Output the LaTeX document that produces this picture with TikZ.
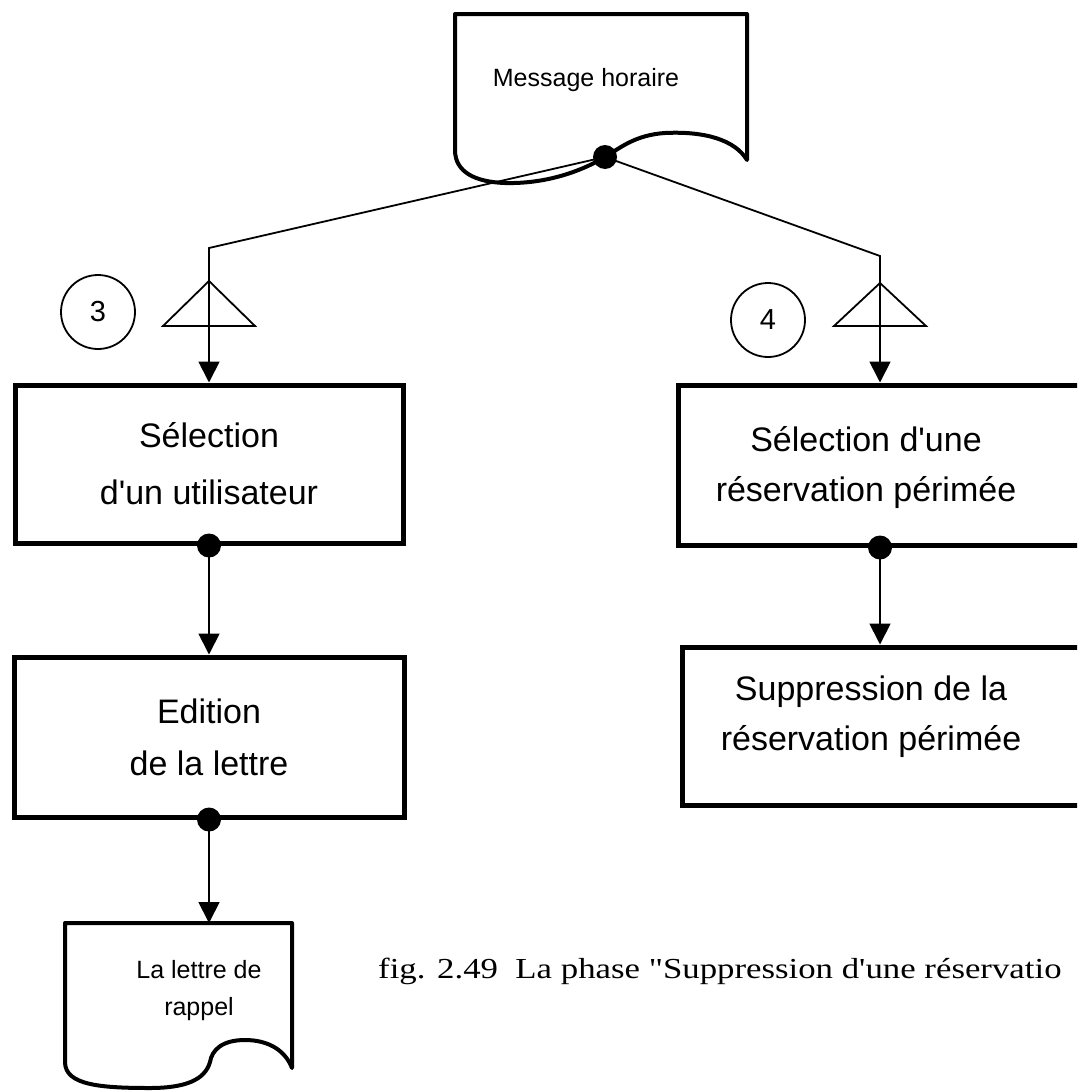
\documentclass[tikz,border=0pt]{standalone}
\usepackage{fontspec}
\usepackage{graphicx}
\setmainfont{Liberation Sans}
\newfontfamily\capfont{Liberation Serif}
\usetikzlibrary{arrows.meta}
\newcommand{\apos}{\textquotesingle}
\tikzset{
 procbox/.style={draw, line width=5pt, minimum height=158pt, inner sep=0pt, align=center, font=\fontsize{34}{52}\selectfont},
 boxtext/.style={align=center, inner sep=0pt, font=\fontsize{34}{50}\selectfont},
 doc/.style={line width=4pt, line join=round},
 doctext/.style={align=center, inner sep=0pt, font=\fontsize{25}{37}\selectfont},
 conn/.style={line width=1.8pt},
 arr/.style={conn, -{Triangle[length=21pt,width=21pt]}},
 dot/.style={circle, fill, inner sep=0pt, minimum size=24pt},
 numcirc/.style={circle, draw, line width=1.8pt, minimum size=74pt, inner sep=0pt, font=\fontsize{29}{29}\selectfont},
 tri/.style={line width=1.8pt, line join=miter},
}
\begin{document}
\begin{tikzpicture}[x=1pt,y=-1pt]
\useasboundingbox (0,0) rectangle (1077,1092);
\clip (0,0) rectangle (1077,1092);
\fill[white] (0,0) rectangle (1077,1092);
% document: Message horaire
\draw[doc] (455,14) -- (747,14) -- (747,160) .. controls (735,140) and (705,131) .. (665,133) .. controls (635,135) and (620,148) .. (605,157) .. controls (580,172) and (545,184) .. (505,183) .. controls (475,182) and (455,172) .. (455,150) -- cycle;
\node[doctext] (mh) at (586,80) {Message horaire};
\node[dot] (mhb) at (605,157) {};
% processes
\node[procbox, minimum width=388pt, font=\fontsize{34}{57}\selectfont] (b1) at (209,464) {Sélection\\d\apos un utilisateur};
\node[procbox, minimum width=390pt, minimum height=160pt] (b2) at (209,737) {Edition\\de la lettre};
\node[procbox, minimum width=412pt, minimum height=160pt] (b3) at (884,465) {};
\node[boxtext] (b3t) at (866,468) {Sélection d\apos une\\réservation périmée};
\node[procbox, minimum width=412pt] (b4) at (888,726) {};
\node[boxtext] (b4t) at (871,717) {Suppression de la\\réservation périmée};
% document: La lettre de rappel
\draw[doc] (65,923) -- (292,923) -- (292,1068) .. controls (285,1050) and (268,1040) .. (245,1040) .. controls (222,1040) and (212,1050) .. (210,1062) .. controls (205,1080) and (185,1088) .. (150,1088) .. controls (100,1088) and (65,1085) .. (65,1062) -- cycle;
\node[doctext] (lr) at (199,991) {La lettre de\\rappel};
\coordinate (lt) at (209,923);
% circles
\node[numcirc] (n3) at (98,312) {3};
\node[numcirc] (n4) at (768,320) {4};
% branch points
\coordinate (c3) at (209,248);
\coordinate (c4) at (880,256);
\coordinate (t3) at (209,281);
\coordinate (t4) at (880,283);
\draw[tri] (t3) -- ++(-46,45) -- ++(92,0) -- cycle;
\draw[tri] (t4) -- ++(-46,43) -- ++(92,0) -- cycle;
% connectors
\draw[arr] (mhb.center) -- (c3) -- (b1.north);
\draw[arr] (mhb.center) -- (c4) -- (c4 |- b3.north);
\node[dot] (d1) at (b1.south) {};
\node[dot] (d2) at (b2.south) {};
\node[dot] (d3) at (c4 |- b3.south) {};
\draw[arr] (d1.center) -- (b2.north);
\draw[arr] (d2.center) -- (lt);
\draw[arr] (d3.center) -- (d3.center |- b4.north);
% caption
\node[anchor=base west, inner sep=0pt] (cap) at (378,978) {\scalebox{1.2}[1]{\capfont\fontsize{29}{29}\selectfont fig. 2.49~~La phase "Suppression d'une réservatio}};
\end{tikzpicture}
\end{document}
